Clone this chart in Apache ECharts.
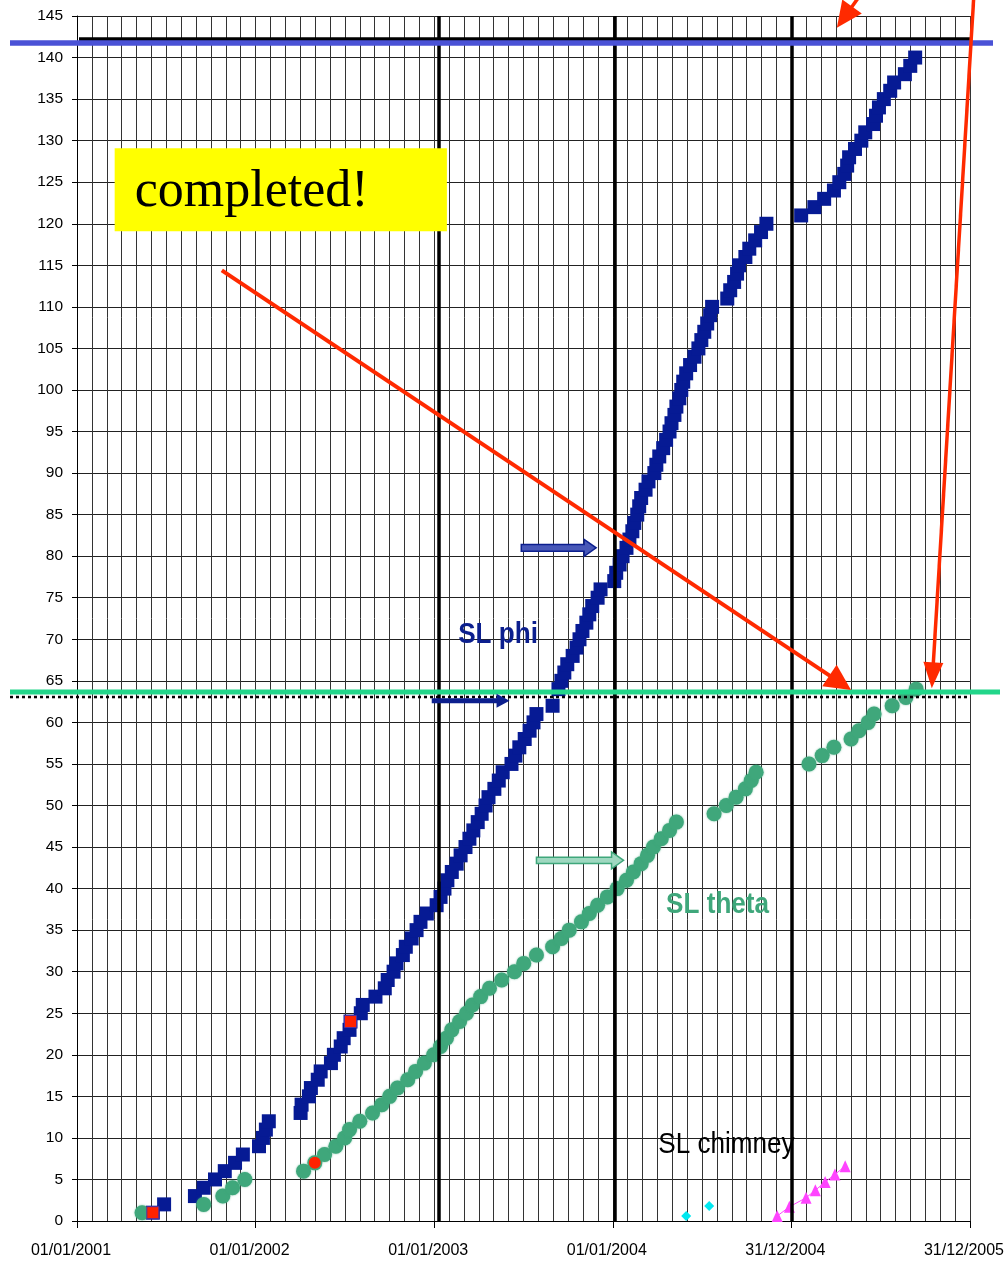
<!DOCTYPE html>
<html><head><meta charset="utf-8">
<script src="https://cdn.jsdelivr.net/npm/echarts@6/dist/echarts.min.js"></script>
<style>html,body{margin:0;padding:0;background:#fff}#c{width:1007px;height:1266px}</style>
</head><body><div id="c"></div>
<script>
// x values are days counted from 01/01/2001
const xTickDays = [0, 365, 730, 1095, 1460, 1825];
const xTickLabels = ['01/01/2001', '01/01/2002', '01/01/2003', '01/01/2004', '31/12/2004', '31/12/2005'];
const yMax = 145, yStep = 5;

// SL phi: [day, cumulative count]
const phiPoints = [
 [155,1],[178,2],[241,3],[259,4],[282,5],[302,6],[323,7],[339,8],[372,9],[380,10],
 [386,11],[392,12],[457,13],[459,14],[474,15],[478,16],[492,17],[498,18],[519,19],[525,20],
 [539,21],[545,22],[557,23],[559,24],[580,25],[584,26],[610,27],[629,28],[635,29],[647,30],
 [653,31],[666,32],[672,33],[684,34],[694,35],[702,36],[715,37],[735,38],[743,39],[751,40],
 [757,41],[766,42],[776,43],[784,44],[794,45],[802,46],[810,47],[819,48],[827,49],[835,50],
 [841,51],[853,52],[862,53],[870,54],[888,55],[896,56],[904,57],[915,58],[925,59],[933,60],
 [939,61],[972,62],[984,64],[990,65],[996,66],[1002,67],[1013,68],[1021,69],[1027,70],
 [1033,71],[1041,72],[1047,73],[1053,74],[1064,75],[1070,76],[1098,77],[1102,78],[1109,79],[1115,80],
 [1123,81],[1129,82],[1135,83],[1139,84],[1145,85],[1149,86],[1153,87],[1162,88],[1168,89],[1180,90],
 [1184,91],[1190,92],[1198,93],[1204,94],[1211,95],[1215,96],[1221,97],[1225,98],[1231,99],[1235,100],
 [1239,101],[1245,102],[1253,103],[1262,104],[1270,105],[1276,106],[1282,107],[1288,108],[1294,109],[1298,110],
 [1329,111],[1335,112],[1343,113],[1349,114],[1353,115],[1366,116],[1374,117],[1386,118],[1398,119],[1409,120],
 [1480,121],[1507,122],[1527,123],[1547,124],[1558,125],[1568,126],[1574,127],[1578,128],[1590,129],[1603,130],
 [1611,131],[1627,132],[1633,133],[1639,134],[1649,135],[1662,136],[1670,137],[1692,138],[1703,139],[1713,140]
];
// SL theta: [day, cumulative count]
const thetaPoints = [
 [133,1],[259,2],[298,3],[318,4],[343,5],[463,6],[486,7],[506,8],[529,9],[547,10],
 [557,11],[578,12],[604,13],[623,14],[639,15],[655,16],[676,17],[692,18],[710,19],[729,20],
 [743,21],[755,22],[766,23],[782,24],[796,25],[808,26],[825,27],[843,28],[868,29],[894,30],
 [913,31],[939,32],[972,33],[990,34],[1006,35],[1031,36],[1047,37],[1064,38],[1084,39],[1104,40],
 [1123,41],[1137,42],[1153,43],[1166,44],[1178,45],[1194,46],[1211,47],[1225,48],[1302,49],[1327,50],
 [1347,51],[1366,52],[1378,53],[1388,54],[1496,55],[1523,56],[1547,57],[1582,58],[1598,59],[1617,60],
 [1629,61],[1666,62],[1694,63],[1715,64]
];
// highlighted points
const phiRed = [[155,1],[559,24]];
const thetaRed = [[486,7]];
// SL chimney
const chimneyA = [[1245,0.6],[1292,1.8]];
const chimneyB = [[1431,0.6],[1456,1.7],[1490,2.8],[1509,3.7],[1529,4.7],[1549,5.6],[1570,6.6]];
// thick reference lines (days)
const refLineDays = [740, 1100, 1461];
// horizontal annotation levels (counts)
const levelBlack = 142.2, levelBlue = 141.75, levelGreen = 63.66, levelDotted = 63.05;

const chart = echarts.init(document.getElementById('c'), null, {renderer: 'canvas'});
const FONT = '"Liberation Sans", Arial, sans-serif';
const NAVY = '#061a94', GREEN = '#3fa77b';

chart.setOption({
  animation: false,
  backgroundColor: '#fff',
  grid: {left: 77, top: 16, right: 36, bottom: 45, containLabel: false},
  xAxis: {
    type: 'value', min: 0, max: 1825, interval: 365,
    axisLine: {show: true, lineStyle: {color: '#000', width: 1}},
    axisTick: {show: true, length: 7, lineStyle: {color: '#000'}},
    minorTick: {show: false, splitNumber: 12},
    splitLine: {show: true, lineStyle: {color: '#333', width: 1}},
    minorSplitLine: {show: true, lineStyle: {color: '#333', width: 1}},
    axisLabel: {
      margin: 22, fontSize: 16, fontFamily: FONT, color: '#000', padding: [0, 12, 0, 0],
      showMinLabel: true, showMaxLabel: true, hideOverlap: false,
      formatter: v => { const i = xTickDays.indexOf(Math.round(v)); return i >= 0 ? xTickLabels[i] : ''; }
    }
  },
  yAxis: {
    type: 'value', min: 0, max: yMax, interval: yStep,
    axisLine: {show: true, lineStyle: {color: '#000', width: 1}},
    axisTick: {show: true, length: 5, lineStyle: {color: '#000'}},
    splitLine: {show: true, lineStyle: {color: '#222', width: 1}},
    axisLabel: {margin: 14, fontSize: 15.5, fontFamily: FONT, color: '#000'}
  },
  series: [
    {name: 'SL phi', type: 'scatter', data: phiPoints, symbol: 'rect', symbolSize: 14,
     itemStyle: {color: NAVY, opacity: 1}, z: 2, silent: true},
    {name: 'SL theta', type: 'scatter', data: thetaPoints, symbol: 'circle', symbolSize: 15,
     itemStyle: {color: GREEN, opacity: 1, shadowBlur: 2, shadowColor: 'rgba(63,167,123,0.7)'}, z: 2, silent: true},
    {name: 'phi red', type: 'scatter', data: phiRed, symbol: 'rect', symbolSize: 12,
     itemStyle: {color: '#ff2200', opacity: 1, borderColor: '#5030a0', borderWidth: 1}, z: 3, silent: true},
    {name: 'theta red', type: 'scatter', data: thetaRed, symbol: 'circle', symbolSize: 12,
     itemStyle: {color: '#ff2200', opacity: 1}, z: 3, silent: true},
    {name: 'chimney A', type: 'scatter', data: chimneyA, symbol: 'diamond', symbolSize: 10,
     itemStyle: {color: '#00e8f0', opacity: 1}, z: 3, silent: true},
    {name: 'chimney B', type: 'line', data: chimneyB, symbol: 'triangle', symbolSize: [11, 12],
     showSymbol: true, lineStyle: {color: '#ff44ff', width: 1}, itemStyle: {color: '#ff44ff', opacity: 1}, z: 3, silent: true},
    {name: 'ref', type: 'line', data: [], z: 6, silent: true,
     markLine: {silent: true, symbol: ['none', 'none'], label: {show: false},
       lineStyle: {color: '#000', width: 3.5, type: 'solid'},
       data: refLineDays.map(d => ({xAxis: d}))}}
  ]
});

function P(d, v) { return chart.convertToPixel({gridIndex: 0}, [d, v]); }
function lineEl(x1, y1, x2, y2, color, w, dash) {
  return {type: 'line', z: 100, silent: true, shape: {x1, y1, x2, y2},
    style: {stroke: color, lineWidth: w, lineDash: dash || null}};
}
function arrow(a, b, w, hl, hw, color) {
  const dx = b[0] - a[0], dy = b[1] - a[1], L = Math.hypot(dx, dy), ux = dx / L, uy = dy / L, px = -uy, py = ux;
  const bx = b[0] - ux * hl, by = b[1] - uy * hl;
  return [
    {type: 'line', z: 101, silent: true, shape: {x1: a[0], y1: a[1], x2: bx + ux * 3, y2: by + uy * 3},
     style: {stroke: color, lineWidth: w}},
    {type: 'polygon', z: 101, silent: true,
     shape: {points: [[b[0], b[1]], [bx + px * hw / 2, by + py * hw / 2], [bx - px * hw / 2, by - py * hw / 2]]},
     style: {fill: color}}
  ];
}
function blockArrow(a, b, t, hl, hw, fill, stroke, sw) {
  const dx = b[0] - a[0], dy = b[1] - a[1], L = Math.hypot(dx, dy), ux = dx / L, uy = dy / L, px = -uy, py = ux;
  const bx = b[0] - ux * hl, by = b[1] - uy * hl;
  return {type: 'polygon', z: 101, silent: true, shape: {points: [
      [a[0] + px * t, a[1] + py * t], [bx + px * t, by + py * t], [bx + px * hw / 2, by + py * hw / 2],
      [b[0], b[1]], [bx - px * hw / 2, by - py * hw / 2], [bx - px * t, by - py * t], [a[0] - px * t, a[1] - py * t]]},
    style: {fill, stroke: stroke || null, lineWidth: sw || 0}};
}
function textEl(txt, x, y, font, color, sx) {
  return {type: 'text', z: 102, silent: true, x, y, scaleX: sx || 1,
    style: {text: txt, font, fill: color, align: 'left', verticalAlign: 'middle'}};
}

const xL = P(0, 0)[0], xR = P(1825, 0)[0];
const yBk = P(0, levelBlack)[1], yBl = P(0, levelBlue)[1], yGr = P(0, levelGreen)[1], yDt = P(0, levelDotted)[1];
const els = [];
els.push(lineEl(xL + 2, yBk, xR, yBk, '#000', 4));
els.push(lineEl(10, yBl, 993, yBl, '#4a52d6', 5.5));
els.push(lineEl(10, yDt, xR, yDt, '#000', 2.5, [3, 3]));
els.push(lineEl(10, yGr, 1000, yGr, '#22d68a', 5));
// yellow box
const yb1 = P(77, 129.1), yb2 = P(756, 119.1);
els.push({type: 'rect', z: 100, silent: true, shape: {x: yb1[0], y: yb1[1], width: yb2[0] - yb1[0], height: yb2[1] - yb1[1]},
  style: {fill: '#ffff00'}});
els.push(textEl('completed!', yb1[0] + 20, (yb1[1] + yb2[1]) / 2 + 3, '52px "Liberation Serif", "Times New Roman", serif', '#000'));
// red arrows
els.push(...arrow(P(296, 114.4), P(1582, 63.9), 4, 26, 26, '#ff2a00'));
els.push(...arrow(P(1833, 147.5), P(1747, 64.1), 3.5, 26, 20, '#ff2a00'));
els.push(...arrow(P(1625, 149.5), P(1553, 143.6), 3.5, 26, 24, '#ff2a00'));
// small arrows
els.push(blockArrow(P(908, 81.0), P(1061, 81.0), 3.3, 12, 17, '#4858b8', '#0c1f8e', 1.5));
els.push(blockArrow(P(725, 62.6), P(884, 62.6), 2.6, 13, 14, '#0c1f8e'));
els.push(blockArrow(P(939, 43.4), P(1117, 43.4), 3.2, 12, 17, '#9fd8c0', '#3fa77b', 1.5));
// labels
const tp = P(779, 70.5), tt = P(1204, 38.0), tc = P(1188, 9.2);
els.push(textEl('SL phi', tp[0], tp[1], 'bold 30px ' + FONT, '#0c1f8e', 0.87));
els.push(textEl('SL theta', tt[0], tt[1], 'bold 30px ' + FONT, GREEN, 0.87));
els.push(textEl('SL chimney', tc[0], tc[1], '30px ' + FONT, '#000', 0.87));
chart.setOption({graphic: {elements: els}});
</script></body></html>
